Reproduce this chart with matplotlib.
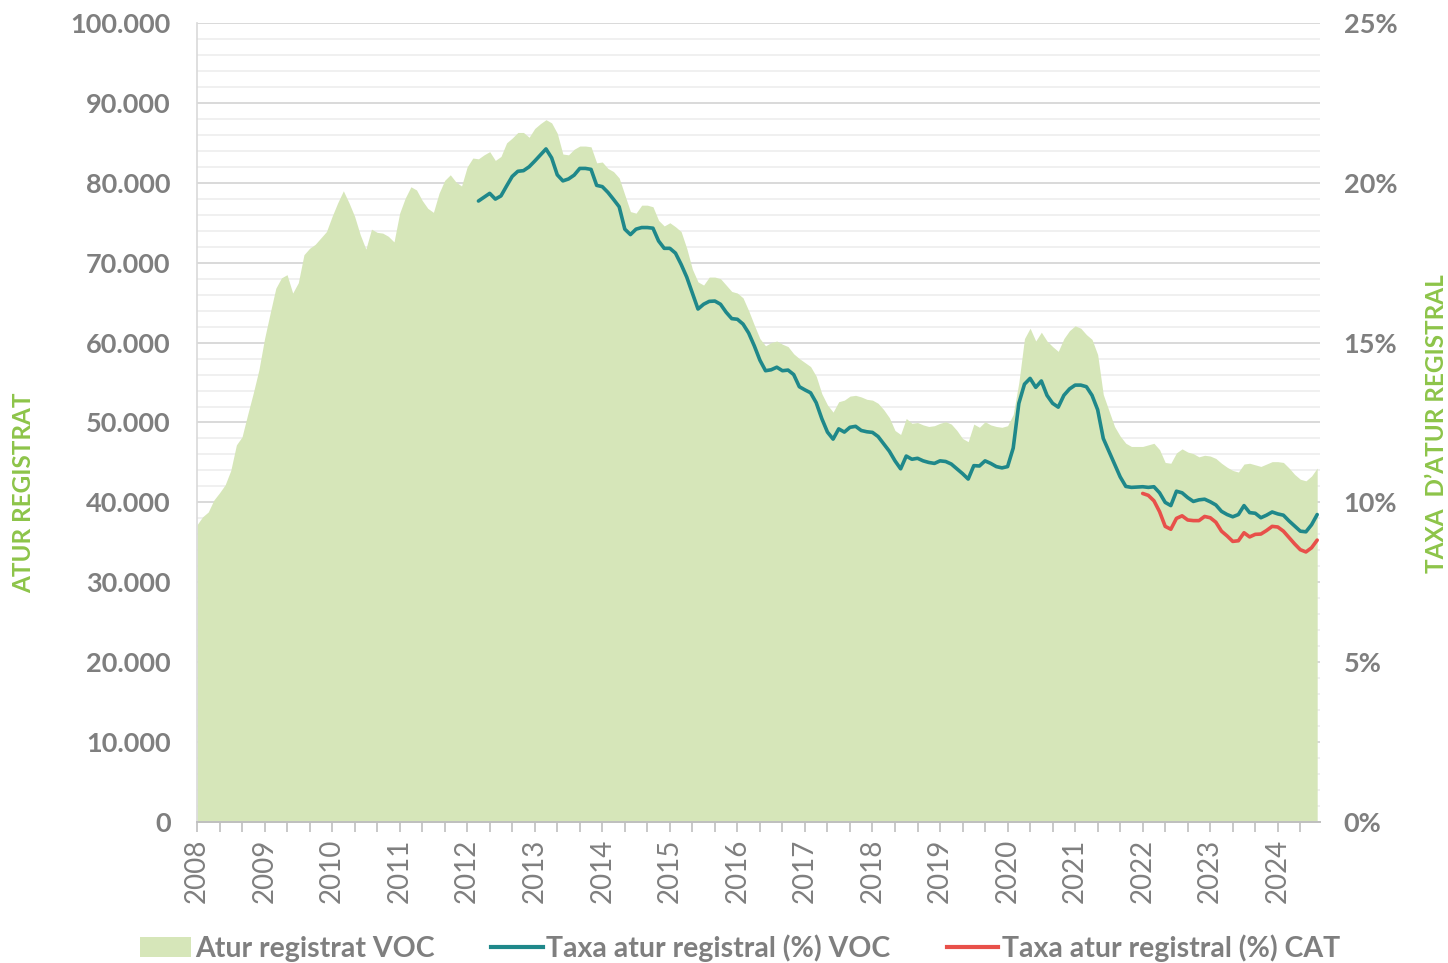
import matplotlib
matplotlib.use("Agg")
import matplotlib.pyplot as plt
from matplotlib.patches import Patch
from matplotlib.lines import Line2D
from matplotlib.ticker import FuncFormatter, MultipleLocator
import numpy as np

plt.rcParams['font.family'] = ['Lato', 'DejaVu Sans']

# ---- data (monthly, Jan 2008 .. Aug 2024) ----
years = [str(y) for y in range(2008, 2025)]

atur_registrat_voc = [
    37.2, 38.2, 38.8, 40.3, 41.2, 42.2, 44.0, 47.2, 48.2, 51.0, 53.7, 56.6,   # 2008
    60.5, 63.7, 66.8, 68.1, 68.5, 66.2, 67.5, 71.0, 71.8, 72.3, 73.1, 73.9,   # 2009
    75.8, 77.5, 79.0, 77.5, 75.8, 73.5, 71.7, 74.2, 73.8, 73.7, 73.3, 72.6,   # 2010
    76.2, 78.1, 79.5, 79.1, 77.8, 76.8, 76.3, 78.7, 80.3, 81.0, 80.1, 79.6,   # 2011
    82.0, 83.1, 83.0, 83.5, 83.9, 82.8, 83.3, 85.0, 85.6, 86.3, 86.3, 85.7,   # 2012
    86.8, 87.4, 87.9, 87.5, 86.2, 83.6, 83.5, 84.2, 84.6, 84.6, 84.5, 82.5,   # 2013
    82.6, 81.8, 81.4, 80.6, 78.5, 76.4, 76.2, 77.2, 77.2, 77.0, 75.3, 74.6,   # 2014
    75.0, 74.5, 73.9, 71.8, 69.2, 67.6, 67.2, 68.2, 68.2, 68.0, 67.2, 66.4,   # 2015
    66.2, 65.6, 64.0, 62.2, 60.5, 59.6, 60.0, 60.2, 59.8, 59.5, 58.6, 58.0,   # 2016
    57.5, 57.0, 55.8, 53.6, 52.2, 51.3, 52.6, 52.8, 53.3, 53.4, 53.2, 52.9,   # 2017
    52.8, 52.4, 51.6, 50.6, 49.0, 48.5, 50.5, 49.9, 50.0, 49.7, 49.5, 49.6,   # 2018
    49.9, 50.1, 49.8, 49.0, 48.0, 47.6, 49.8, 49.4, 50.1, 49.7, 49.5, 49.4,   # 2019
    49.6, 51.0, 55.0, 60.5, 61.8, 60.2, 61.3, 60.2, 59.5, 58.9, 60.5, 61.5,   # 2020
    62.1, 61.8, 61.0, 60.4, 58.5, 53.5, 51.5, 49.5, 48.3, 47.4, 47.0, 47.0,   # 2021
    47.0, 47.2, 47.4, 46.6, 45.0, 44.9, 46.2, 46.7, 46.3, 46.1, 45.7, 45.9,   # 2022
    45.8, 45.5, 44.9, 44.4, 44.0, 43.8, 44.8, 44.9, 44.7, 44.5, 44.8, 45.1,   # 2023
    45.1, 45.0, 44.3, 43.5, 42.9, 42.7, 43.3, 44.3,                           # 2024
]
atur_registrat_voc = [v * 1000 for v in atur_registrat_voc]

# Taxa atur registral (%) VOC, from Mar 2012 (month index 50)
taxa_voc_start = 50
taxa_voc = [
    19.43, 19.55, 19.67, 19.49, 19.59, 19.90, 20.20, 20.36, 20.38, 20.50,
    20.68, 20.87, 21.06, 20.78, 20.25, 20.06, 20.12, 20.24, 20.45, 20.45, 20.42, 19.92,
    19.88, 19.70, 19.48, 19.25, 18.55, 18.38, 18.55, 18.60, 18.60, 18.58, 18.18, 17.95,
    17.95, 17.80, 17.45, 17.05, 16.55, 16.05, 16.20, 16.29, 16.30, 16.20, 15.95, 15.75,
    15.73, 15.58, 15.30, 14.90, 14.45, 14.12, 14.15, 14.23, 14.12, 14.14, 14.00, 13.62,
    13.52, 13.43, 13.12, 12.62, 12.20, 11.98, 12.30, 12.20, 12.35, 12.38, 12.25, 12.21,
    12.19, 12.06, 11.83, 11.60, 11.30, 11.05, 11.45, 11.35, 11.38, 11.30, 11.25, 11.22,
    11.30, 11.28, 11.20, 11.05, 10.90, 10.73, 11.15, 11.14, 11.30, 11.22, 11.12, 11.08,
    11.12, 11.70, 13.10, 13.70, 13.88, 13.60, 13.80, 13.35, 13.10, 12.98, 13.35, 13.55,
    13.67, 13.67, 13.62, 13.35, 12.90, 12.00, 11.60, 11.20, 10.80, 10.50, 10.47, 10.48,
    10.49, 10.47, 10.49, 10.30, 10.00, 9.90, 10.35, 10.30, 10.15, 10.03, 10.08, 10.10,
    10.02, 9.92, 9.72, 9.62, 9.55, 9.62, 9.90, 9.68, 9.66, 9.52, 9.60, 9.70,
    9.64, 9.60, 9.42, 9.26, 9.10, 9.08, 9.30, 9.62,
]

# Taxa atur registral (%) CAT, from Jan 2022 (month index 168)
taxa_cat_start = 168
taxa_cat = [
    10.28, 10.22, 10.05, 9.71, 9.25, 9.16, 9.50, 9.58, 9.45, 9.43, 9.43, 9.56,
    9.52, 9.38, 9.10, 8.95, 8.78, 8.80, 9.05, 8.92, 9.00, 9.01, 9.12, 9.25,
    9.23, 9.10, 8.90, 8.70, 8.52, 8.45, 8.58, 8.82,
]

# ---- styling ----
C_AREA = '#d6e6b9'
C_TEAL = '#1f888a'
C_RED = '#e8504a'
C_TEXT = '#7f7f7f'
C_GREEN = '#8dc449'

fig = plt.figure(figsize=(14.48, 9.63), dpi=100)
ax = fig.add_axes([197/1448, 1 - 822/963, (1320 - 197)/1448, (822 - 23)/963])
ax2 = ax.twinx()

x_area = np.arange(len(atur_registrat_voc))
ax.fill_between(x_area, 0, atur_registrat_voc, color=C_AREA, lw=0, zorder=2)

x_voc = np.arange(taxa_voc_start, taxa_voc_start + len(taxa_voc))
x_cat = np.arange(taxa_cat_start, taxa_cat_start + len(taxa_cat))
ax2.plot(x_voc, taxa_voc, color=C_TEAL, lw=2.6, solid_joinstyle='round', solid_capstyle='round')
ax2.plot(x_cat, taxa_cat, color=C_RED, lw=2.6, solid_joinstyle='round', solid_capstyle='round')

ax.set_xlim(0, 199.5)
ax.set_ylim(0, 100000)
ax2.set_ylim(0, 25)

# grid
ax.set_axisbelow(True)
ax.yaxis.set_major_locator(MultipleLocator(10000))
ax.yaxis.set_minor_locator(MultipleLocator(2000))
ax.grid(axis='y', which='minor', color='#f0f0f0', lw=1.4, zorder=0)
ax.grid(axis='y', which='major', color='#d9d9d9', lw=1.4, zorder=0)

ax.yaxis.set_major_formatter(FuncFormatter(lambda v, p: f"{int(v):,}".replace(',', '.')))
ax.tick_params(axis='y', which='both', length=0, pad=19, labelsize=19.5,
               labelcolor=C_TEXT)
for lab in ax.get_yticklabels():
    lab.set_fontweight('bold')

ax2.yaxis.set_major_locator(MultipleLocator(5))
ax2.yaxis.set_major_formatter(FuncFormatter(lambda v, p: f"{int(v)}%"))
ax2.tick_params(axis='y', length=0, pad=17, labelsize=19.5, labelcolor=C_TEXT)
for lab in ax2.get_yticklabels():
    lab.set_fontweight('bold')

# x axis
ax.set_xticks(np.arange(0, len(years) * 12, 12))
ax.set_xticklabels(years, rotation=90)
ax.set_xticks(np.arange(0, 200, 4), minor=True)
ax.tick_params(axis='x', which='both', direction='out', length=7, width=1.2,
               color='#bfbfbf', labelsize=20, labelcolor=C_TEXT, pad=5)

for s in ['top', 'right']:
    ax.spines[s].set_visible(False)
    ax2.spines[s].set_visible(False)
for s in ['left', 'bottom']:
    ax2.spines[s].set_visible(False)
ax.spines['left'].set_color('#d9d9d9')
ax.spines['left'].set_linewidth(1.2)
ax.spines['bottom'].set_color('#bfbfbf')
ax.spines['bottom'].set_linewidth(1.4)

# axis titles
fig.text(24/1448, 1 - 493/963, 'ATUR REGISTRAT', rotation=90, ha='center', va='center',
         color=C_GREEN, fontsize=17.5, fontweight='bold')
fig.text(1437/1448, 1 - 424/963, 'TAXA  D\u2019ATUR REGISTRAL', rotation=90, ha='center',
         va='center', color=C_GREEN, fontsize=17.5, fontweight='bold')

handles = [Patch(facecolor=C_AREA, edgecolor='none'),
           Line2D([], [], color=C_TEAL, lw=3),
           Line2D([], [], color=C_RED, lw=3)]
labels = ['Atur registrat VOC', 'Taxa atur registral (%) VOC', 'Taxa atur registral (%) CAT']
leg = fig.legend(handles, labels, loc='center', bbox_to_anchor=(740/1448, 1 - 948/963),
                 ncol=3, frameon=False, fontsize=20.5, handlelength=1.8, handleheight=0.7,
                 handletextpad=0.12, columnspacing=2.0, borderaxespad=0, borderpad=0)
for t in leg.get_texts():
    t.set_color(C_TEXT)
    t.set_fontweight('bold')

fig.savefig('out.png', dpi=100)
